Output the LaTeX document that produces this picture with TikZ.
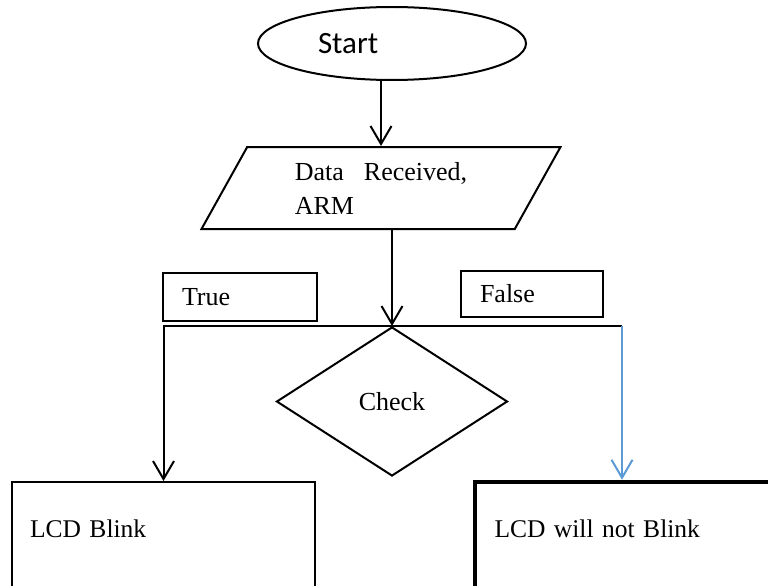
\documentclass[tikz,border=0pt]{standalone}
\usepackage{fontspec}
\setmainfont{Liberation Serif}
\newfontfamily\calibrifont{Carlito}
\usetikzlibrary{shapes,arrows.meta}
\definecolor{falseblue}{RGB}{91,155,213}

\begin{document}
\begin{tikzpicture}[x=1pt, y=-1pt, line width=2pt,
	term/.style = {draw, ellipse, minimum width=268pt, minimum height=73pt, inner sep=0pt, text width=148pt, align=left, font=\calibrifont\fontsize{31}{37}\selectfont},
	io/.style = {draw, trapezium, trapezium left angle=48.7, trapezium right angle=131.3, trapezium stretches body, minimum width=359pt, minimum height=82pt, inner sep=0pt, align=left, font=\fontsize{26}{34}\selectfont},
	decision/.style = {draw, diamond, minimum width=231pt, minimum height=149pt, inner sep=0pt, font=\fontsize{26}{31}\selectfont},
	tagbox/.style = {draw, rectangle, inner xsep=19pt, inner ysep=0pt, align=left, font=\fontsize{26}{31}\selectfont},
	outbox/.style = {draw, rectangle, minimum height=110pt, inner xsep=18pt, inner ysep=0pt, text depth=16pt, align=left, font=\fontsize{25.5}{31}\selectfont},
	arr/.style = {-{Straight Barb[length=18pt, width=21pt]}}]
		\useasboundingbox (0,0) rectangle (768,586);
		\node (1) [term]  at (392,43.5) {Start};
		\node (2) [io]  at (381,188) {Data\hspace{20pt}Received,\\ARM};
		\node (3) [decision]  at (392,401.5) {Check};
		\node (4) [tagbox, minimum height=48pt, text width=116pt]  at (240,297) {True};
		\node (5) [tagbox, minimum height=46pt, text width=104pt]  at (532,294) {False};
		\node (6) [outbox, text width=267pt]  at (163.5,537) {LCD Blink};
		\node (7) [outbox, line width=4.5pt, inner xsep=19.5pt, text width=285pt]  at (637,537) {LCD will not Blink};
		\path  (3.north) ++(230,0) coordinate (r);
		\draw[arr]  (1.south -| 2.north) -- (2.north);
		\draw[arr]  (2.south -| 3.north) -- (3.north);
		\draw[arr]  (3.north) -| (6.north);
		\draw  (3.north) -- (r);
		\draw[arr, falseblue]  (r) -- (r |- 7.north);
	\end{tikzpicture}
\end{document}
